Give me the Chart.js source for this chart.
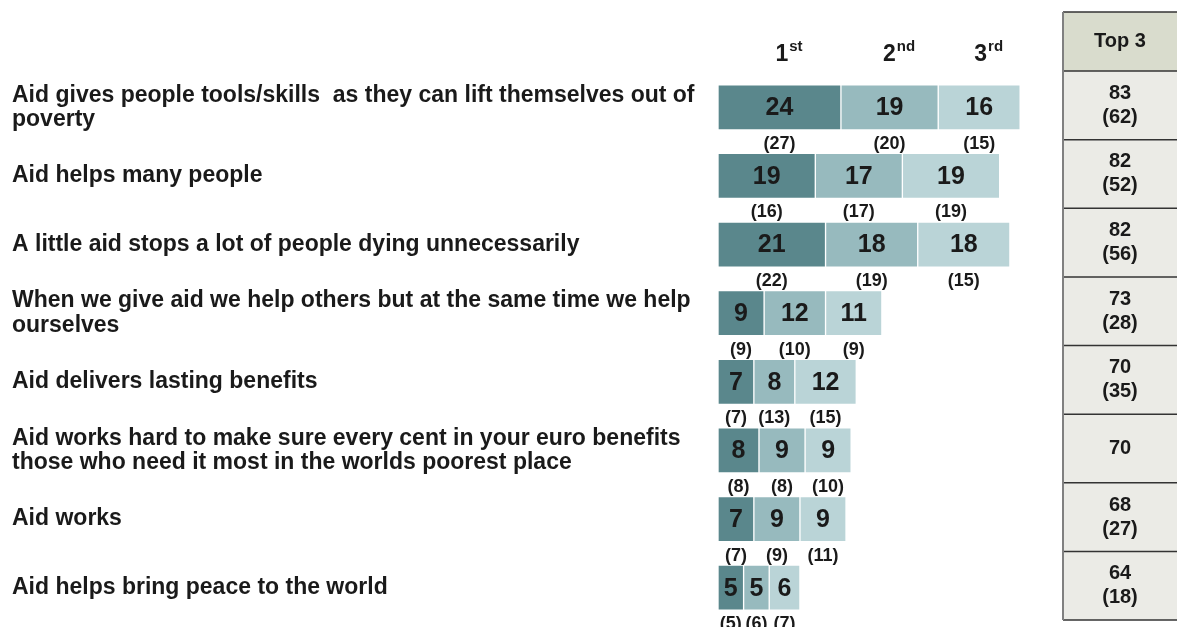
<!DOCTYPE html>
<html>
<head>
<meta charset="utf-8">
<script src="https://cdn.jsdelivr.net/npm/chart.js@4.4.1/dist/chart.umd.min.js"></script>
<style>
  html, body { margin: 0; padding: 0; background: #fff; }
  canvas { display: block; }
</style>
</head>
<body>
<canvas id="aidChart" width="1177" height="627"></canvas>
<script>
// Nhãn các phát biểu
const categories = [
    ['Aid gives people tools/skills  as they can lift themselves out of', 'poverty'],
    'Aid helps many people',
    'A little aid stops a lot of people dying unnecessarily',
    ['When we give aid we help others but at the same time we help', 'ourselves'],
    'Aid delivers lasting benefits',
    ['Aid works hard to make sure every cent in your euro benefits', 'those who need it most in the worlds poorest place'],
    'Aid works',
    'Aid helps bring peace to the world'
];

// Xếp hạng 1, 2, 3 (năm nay)
const rank1 = [24, 19, 21, 9, 7, 8, 7, 5];
const rank2 = [19, 17, 18, 12, 8, 9, 9, 5];
const rank3 = [16, 19, 18, 11, 12, 9, 9, 6];

// Giá trị năm trước (trong ngoặc)
const prev1 = [27, 16, 22, 9, 7, 8, 7, 5];
const prev2 = [20, 17, 19, 10, 13, 8, 9, 6];
const prev3 = [15, 19, 15, 9, 15, 10, 11, 7];

// Cột Top 3
const top3 = [83, 82, 82, 73, 70, 70, 68, 64];
const top3Prev = [62, 52, 56, 28, 35, null, 27, 18];

const rankHeaders = [['1', 'st'], ['2', 'nd'], ['3', 'rd']];
const prevValues = [prev1, prev2, prev3];

const FONT = '"Liberation Sans", Arial, sans-serif';
const INK = '#1a1a1a';

// Vẽ số trong thanh, số trong ngoặc, tiêu đề 1st/2nd/3rd và bảng Top 3
const labelsPlugin = {
    id: 'labelsPlugin',
    afterDatasetsDraw(chart) {
        const ctx = chart.ctx;
        const yScale = chart.scales.y;
        ctx.save();
        ctx.fillStyle = INK;
        ctx.textBaseline = 'middle';
        ctx.textAlign = 'center';

        chart.data.datasets.forEach((ds, di) => {
            const meta = chart.getDatasetMeta(di);
            meta.data.forEach((bar, i) => {
                const cx = (bar.x + bar.base) / 2;
                ctx.font = `bold 25px ${FONT}`;
                ctx.fillText(ds.data[i], cx, bar.y + 1);
                ctx.font = `bold 18px ${FONT}`;
                ctx.fillText(`(${prevValues[di][i]})`, cx, bar.y + bar.height / 2 + 14);
            });

            // tiêu đề cột theo thanh đầu tiên
            const first = meta.data[0];
            const hx = (first.x + first.base) / 2 + 9;
            const [num, sup] = rankHeaders[di];
            ctx.font = `bold 23px ${FONT}`;
            const wNum = ctx.measureText(num).width;
            ctx.font = `bold 15px ${FONT}`;
            const wSup = ctx.measureText(sup).width;
            const left = hx - (wNum + wSup) / 2;
            ctx.textAlign = 'left';
            ctx.font = `bold 23px ${FONT}`;
            ctx.fillText(num, left, 55);
            ctx.font = `bold 15px ${FONT}`;
            ctx.fillText(sup, left + wNum + 1, 47);
            ctx.textAlign = 'center';
        });

        // bảng Top 3
        const x0 = 1063, x1 = 1180;
        const cx = (x0 + 1177) / 2;
        const step = yScale.getPixelForValue(1) - yScale.getPixelForValue(0);
        const headTop = 12;
        const headBottom = yScale.getPixelForValue(0) - step / 2 - 2;

        ctx.fillStyle = '#d9dccd';
        ctx.fillRect(x0, headTop, x1 - x0, headBottom - headTop);
        ctx.fillStyle = INK;
        ctx.font = `bold 20px ${FONT}`;
        ctx.fillText('Top 3', cx, (headTop + headBottom) / 2);

        top3.forEach((v, i) => {
            const yc = yScale.getPixelForValue(i) - 2;
            const top = yc - step / 2;
            ctx.fillStyle = '#ebebe6';
            ctx.fillRect(x0, top, x1 - x0, step);
            ctx.fillStyle = INK;
            ctx.font = `bold 20px ${FONT}`;
            if (top3Prev[i] === null) {
                ctx.fillText(v, cx, yc);
            } else {
                ctx.fillText(v, cx, yc - 12);
                ctx.fillText(`(${top3Prev[i]})`, cx, yc + 12);
            }
        });

        // đường kẻ bảng
        ctx.strokeStyle = '#333';
        ctx.lineWidth = 1.5;
        const lines = [headTop, headBottom];
        top3.forEach((v, i) => lines.push(yScale.getPixelForValue(i) - 2 + step / 2));
        lines.forEach(y => {
            ctx.beginPath();
            ctx.moveTo(x0, y);
            ctx.lineTo(x1, y);
            ctx.stroke();
        });
        ctx.strokeStyle = '#808080';
        ctx.lineWidth = 2;
        ctx.beginPath();
        ctx.moveTo(x0, headTop);
        ctx.lineTo(x0, lines[lines.length - 1]);
        ctx.stroke();

        ctx.restore();
    }
};

new Chart(document.getElementById('aidChart').getContext('2d'), {
    type: 'bar',
    data: {
        labels: categories,
        datasets: [
            { label: '1st', data: rank1, backgroundColor: '#5a878c' },
            { label: '2nd', data: rank2, backgroundColor: '#97babe' },
            { label: '3rd', data: rank3, backgroundColor: '#bad4d7' }
        ].map(ds => ({
            ...ds,
            borderColor: '#ffffff',
            borderWidth: 1,
            borderSkipped: false,
            barThickness: 45
        }))
    },
    options: {
        indexAxis: 'y',
        responsive: false,
        maintainAspectRatio: false,
        animation: false,
        layout: {
            padding: { left: 12, top: 73, bottom: 5, right: 121 }
        },
        scales: {
            x: {
                stacked: true,
                display: false,
                min: 0,
                max: 66
            },
            y: {
                stacked: true,
                grid: { display: false },
                border: { display: false },
                afterFit(axis) {
                    axis.width = 706;
                    axis.paddingTop = 0;
                    axis.paddingBottom = 0;
                },
                ticks: {
                    crossAlign: 'far',
                    color: INK,
                    font: { family: FONT, size: 23, weight: 'bold', lineHeight: 1.05 }
                }
            }
        },
        plugins: {
            legend: { display: false },
            tooltip: { enabled: false }
        }
    },
    plugins: [labelsPlugin]
});
</script>
</body>
</html>
